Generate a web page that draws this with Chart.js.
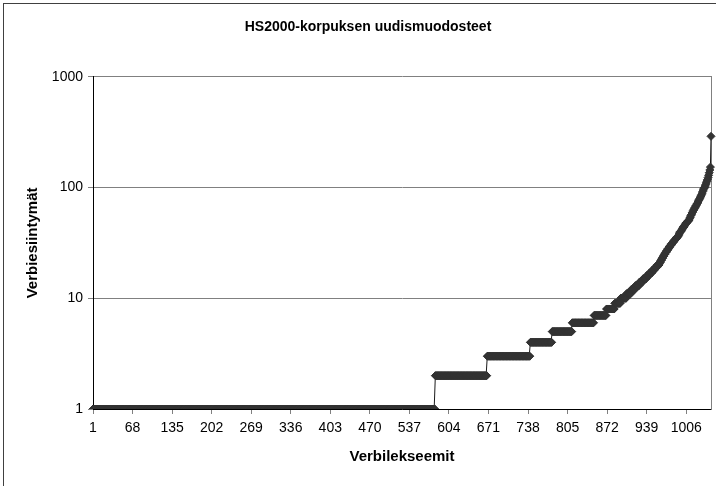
<!DOCTYPE html>
<html>
  <head>
    <title>HS2000-korpuksen uudismuodosteet</title>
    <script src="https://cdn.jsdelivr.net/npm/chart.js"></script>
    <style>
      body { margin: 0; background: #ffffff; }
      #kehys {
        position: absolute; left: 3px; top: 3px; width: 713px; height: 483px;
        border-left: 1px solid #404040; border-top: 1px solid #404040;
      }
      #alue { position: absolute; left: 0; top: 0; width: 716px; height: 486px; }
    </style>
  </head>
  <body>
    <div id="kehys"></div>
    <div id="alue">
      <canvas id="kaavio" width="716" height="486"></canvas>
    </div>

    <script>
      // frequency levels and how many verb lexemes sit on each level
      let tasot = [1, 2, 3, 4, 5, 6, 7, 8, 9, 10, 11, 12, 13, 14, 15, 16, 17, 18, 19, 20];
      let maarat = [580, 88, 73, 37, 34, 37, 21, 14, 10, 10, 8, 7, 7, 6, 6, 5, 5, 4, 4, 4];

      // the steep tail, one value per lexeme
      let hanta = [
        21, 21, 22, 22, 23, 23, 24, 24, 25, 25, 26, 26, 27, 27, 28, 28, 29, 29, 30, 30,
        31, 31, 32, 32, 33, 33, 34, 34, 35, 35, 36, 36, 37, 38, 39, 40, 40, 41, 42, 43,
        44, 44, 45, 46, 47, 48, 48, 49, 50, 50,
        51, 53, 54, 56, 57, 59, 60, 62, 63, 65, 66, 68, 69, 71, 72, 74, 76, 78, 80, 82,
        84, 86, 89, 92, 95, 98,
        100, 103, 106, 110, 114, 118, 123, 129, 136, 144, 153,
        290
      ];

      let yTikit = [1, 10, 100, 1000];
      let xTikkiVali = 67; // a label every 67 lexemes: 1, 68, 135 ...

      let arvot = [];
      for (let i = 0; i < tasot.length; i++) {
        for (let k = 0; k < maarat[i]; k++) {
          arvot.push(tasot[i]);
        }
      }
      for (let i = 0; i < hanta.length; i++) {
        arvot.push(hanta[i]);
      }

      let nimet = [];
      for (let i = 0; i < arvot.length; i++) {
        nimet.push(String(i + 1));
      }

      Chart.defaults.font.family = "'Liberation Sans', Arial, sans-serif";
      Chart.defaults.color = "#000000";

      const config = {
        type: "line",
        data: {
          labels: nimet,
          datasets: [
            {
              label: "Verbiesiintymät",
              data: arvot,
              borderColor: "#1a1a1a",
              borderWidth: 1,
              pointStyle: "rectRot",
              pointRadius: 4,
              pointBackgroundColor: "#333333",
              pointBorderColor: "#333333",
              pointBorderWidth: 1,
              tension: 0,
              fill: false,
            },
          ],
        },
        options: {
          responsive: false,
          animation: false,
          layout: { padding: { left: 24, right: 4, top: 0, bottom: 0 } },
          plugins: {
            legend: { display: false },
            tooltip: { enabled: false },
            title: {
              display: true,
              text: "HS2000-korpuksen uudismuodosteet",
              font: { size: 14, weight: "bold" },
              color: "#000000",
              padding: { top: 19, bottom: 41 },
            },
          },
          scales: {
            x: {
              type: "category",
              offset: false,
              afterBuildTicks: function (scale) {
                scale.ticks = scale.ticks.filter((t) => t.value % xTikkiVali === 0);
              },
              afterFit: function (scale) {
                scale.height = 77;
              },
              ticks: {
                autoSkip: false,
                maxRotation: 0,
                padding: 6,
                font: { size: 14 },
              },
              grid: {
                drawOnChartArea: false,
                drawTicks: true,
                tickLength: 5,
                color: "#808080",
              },
              border: { display: true, color: "#000000", width: 1 },
              title: {
                display: true,
                text: "Verbilekseemit",
                font: { size: 15, weight: "bold" },
                padding: { top: 0, bottom: 20 },
              },
            },
            y: {
              type: "logarithmic",
              min: 1,
              max: 1000,
              afterBuildTicks: function (scale) {
                scale.ticks = yTikit.map((v) => ({ value: v }));
              },
              afterFit: function (scale) {
                scale.width = 69;
              },
              ticks: {
                padding: 5,
                font: { size: 14 },
                callback: (v) => String(v),
              },
              grid: {
                color: "#808080",
                lineWidth: 1,
                drawTicks: true,
                tickLength: 5,
              },
              border: { display: true, color: "#000000", width: 1 },
              title: {
                display: true,
                text: "Verbiesiintymät",
                font: { size: 15, weight: "bold" },
                padding: { top: 0, bottom: 0 },
              },
            },
            oikea: {
              type: "linear",
              position: "right",
              afterFit: function (scale) {
                scale.width = 0;
              },
              ticks: { display: false },
              grid: { display: false },
              border: { display: true, color: "#808080", width: 1 },
            },
          },
        },
      };

      let kaavio = new Chart(document.getElementById("kaavio"), config);
    </script>
  </body>
</html>
